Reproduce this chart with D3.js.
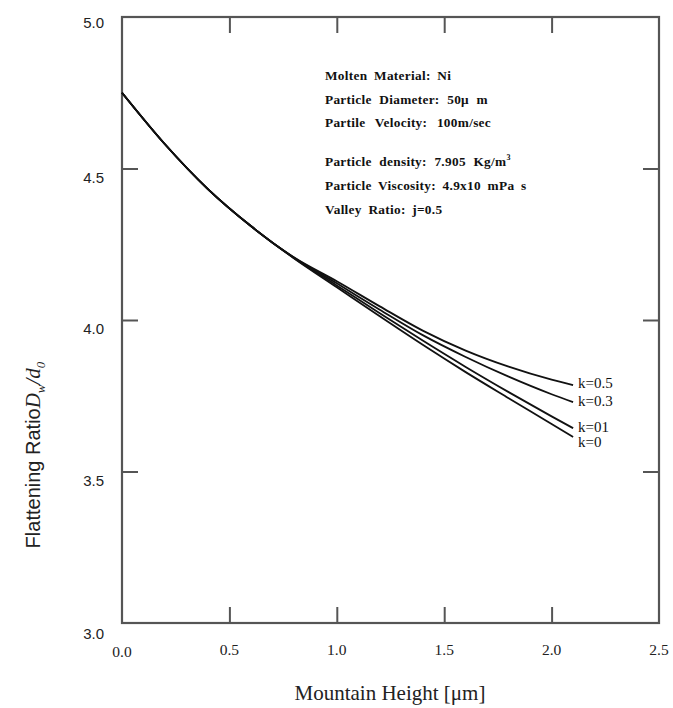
<!DOCTYPE html>
<html><head><meta charset="utf-8">
<script src="https://cdn.jsdelivr.net/npm/d3@7"></script>
<style>
body{margin:0;background:#fff;}
svg{display:block;}
</style></head>
<body>
<svg id="c" width="673" height="708"></svg>
<script>
// ---- data ----
const heights = [0, 0.2, 0.4, 0.6, 0.8, 1.0, 1.2, 1.4, 1.6, 1.8, 2.0, 2.1];
const seriesNames = ["k=0.5", "k=0.3", "k=01", "k=0"];
const k05 = [4.750, 4.580, 4.432, 4.310, 4.207, 4.128, 4.045, 3.965, 3.899, 3.846, 3.803, 3.785];
const k03 = [4.750, 4.580, 4.432, 4.310, 4.206, 4.121, 4.034, 3.950, 3.878, 3.813, 3.755, 3.729];
const k01 = [4.750, 4.580, 4.432, 4.310, 4.205, 4.114, 4.022, 3.932, 3.845, 3.762, 3.682, 3.643];
const k00 = [4.750, 4.580, 4.432, 4.310, 4.204, 4.108, 4.012, 3.918, 3.828, 3.742, 3.657, 3.614];
const xTicks = [0.0, 0.5, 1.0, 1.5, 2.0, 2.5];
const yTicks = [3.0, 3.5, 4.0, 4.5, 5.0];
const annotations = [
  "Molten Material: Ni",
  "Particle Diameter: 50\u03bc m",
  "Partile Velocity: 100m/sec",
  "Particle density: 7.905 Kg/m",
  "Particle Viscosity: 4.9x10 mPa s",
  "Valley Ratio: j=0.5"
];

const svg = d3.select("#c");
const L = 122, R = 659, T = 17, B = 623;
const x = d3.scaleLinear().domain([0, 2.5]).range([L, R]);
const y = d3.scaleLinear().domain([3, 5]).range([B, T]);

// frame
svg.append("rect").attr("x", L).attr("y", T).attr("width", R - L).attr("height", B - T)
  .attr("fill", "none").attr("stroke", "#555").attr("stroke-width", 2.2);

// ticks (inner) using axes
const tl = 16;
const styleTicks = g => { g.select(".domain").remove(); g.selectAll("line").attr("stroke", "#555").attr("stroke-width", 2); };
svg.append("g").attr("transform", `translate(0,${B})`)
  .call(d3.axisTop(x).tickValues(xTicks.slice(1, -1)).tickSize(tl).tickFormat("")).call(styleTicks);
svg.append("g").attr("transform", `translate(0,${T})`)
  .call(d3.axisBottom(x).tickValues(xTicks.slice(1, -1)).tickSize(tl).tickFormat("")).call(styleTicks);
svg.append("g").attr("transform", `translate(${L},0)`)
  .call(d3.axisRight(y).tickValues(yTicks.slice(1, -1)).tickSize(tl).tickFormat("")).call(styleTicks);
svg.append("g").attr("transform", `translate(${R},0)`)
  .call(d3.axisLeft(y).tickValues(yTicks.slice(1, -1)).tickSize(tl).tickFormat("")).call(styleTicks);

// tick labels
svg.append("g").selectAll("text").data(xTicks).join("text")
  .attr("x", d => x(d)).attr("y", d => d === 0 ? 657 : 655)
  .attr("text-anchor", "middle")
  .attr("font-family", "Liberation Serif, Times New Roman, serif")
  .attr("font-size", 15.5).attr("fill", "#222")
  .text(d => d.toFixed(1));
svg.append("g").selectAll("text").data(yTicks).join("text")
  .attr("x", 104).attr("y", d => y(d) + (d === 3 ? 16 : d === 5 ? 11 : 14))
  .attr("text-anchor", "end")
  .attr("font-family", "Liberation Sans, Arial, sans-serif")
  .attr("font-size", 15).attr("fill", "#222")
  .text(d => d.toFixed(1));

// curves
const line = d3.line().x((d, i) => x(heights[i])).y(d => y(d)).curve(d3.curveMonotoneX);
const allSeries = [k05, k03, k01, k00];
svg.append("g").selectAll("path").data(allSeries).join("path")
  .attr("d", d => line(d)).attr("fill", "none").attr("stroke", "#111").attr("stroke-width", 1.8);

// series labels
const labelY = [388, 406, 432, 447];
svg.append("g").selectAll("text").data(seriesNames).join("text")
  .attr("x", 578).attr("y", (d, i) => labelY[i])
  .attr("font-family", "Liberation Serif, Times New Roman, serif")
  .attr("font-size", 15).attr("fill", "#111")
  .text(d => d);

// annotation block
const annY = [80, 104, 127, 166, 190, 214];
const annWordSpacing = [3, 4, 6, 4, 3, 3];
const ann = svg.append("g").attr("font-family", "Liberation Serif, Times New Roman, serif")
  .attr("font-size", 13.3).attr("fill", "#111").attr("font-weight", "bold");
ann.selectAll("text").data(annotations).join("text")
  .attr("x", 325).attr("y", (d, i) => annY[i])
  .attr("letter-spacing", 0.3).attr("word-spacing", (d, i) => annWordSpacing[i])
  .text(d => d)
  .filter((d, i) => i === 3)
  .append("tspan").attr("dy", -6).attr("font-size", 8).text("3");

// axis titles
svg.append("text").attr("x", 390).attr("y", 700).attr("text-anchor", "middle")
  .attr("font-family", "Liberation Serif, Times New Roman, serif").attr("font-size", 21).attr("fill", "#222")
  .text("Mountain Height [\u03bcm]");

const yt = svg.append("text").attr("transform", "translate(40,455) rotate(-90)").attr("text-anchor", "middle")
  .attr("font-family", "Liberation Sans Narrow, Liberation Sans, Arial, sans-serif").attr("font-size", 20).attr("fill", "#222");
yt.append("tspan").text("Flattening Ratio");
yt.append("tspan").attr("font-family", "Liberation Serif, serif").attr("font-style", "italic").attr("font-size", 21).text("D");
yt.append("tspan").attr("font-family", "Liberation Serif, serif").attr("font-style", "italic").attr("font-size", 13).attr("dy", 5).text("w");
yt.append("tspan").attr("font-family", "Liberation Serif, serif").attr("font-style", "italic").attr("font-size", 21).attr("dy", -5).text("/d");
yt.append("tspan").attr("font-family", "Liberation Serif, serif").attr("font-style", "italic").attr("font-size", 13).attr("dy", 5).text("0");
</script>
</body></html>
